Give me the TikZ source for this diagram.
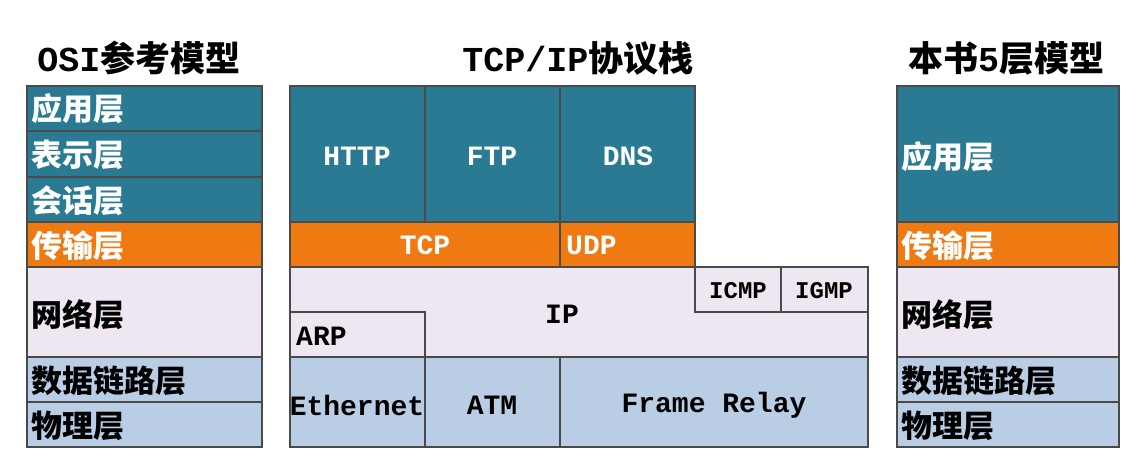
\documentclass[tikz,border=0pt]{standalone}
\usepackage{fontspec}
\setmainfont{Liberation Mono}
\newfontfamily\cjk{Noto Sans CJK SC}
\definecolor{teal}{HTML}{2B7A94}
\definecolor{orng}{HTML}{EF7A12}
\definecolor{lav}{HTML}{EEE7F1}
\definecolor{lblue}{HTML}{B9CDE5}
\definecolor{edge}{HTML}{4A4A4A}
\begin{document}
\begin{tikzpicture}[x=1pt,y=-1pt,
 cell/.style={draw=edge,line width=1.2pt},
 lw/.style={text=white,inner sep=0pt,font=\fontsize{28}{30}\selectfont\bfseries},
 lb/.style={text=black,inner sep=0pt,font=\fontsize{28}{30}\selectfont\bfseries},
 cw/.style={text=white,inner sep=0pt,font=\cjk\fontsize{31}{33}\selectfont\bfseries},
 cb/.style={text=black,inner sep=0pt,font=\cjk\fontsize{31}{33}\selectfont\bfseries},
 ttl/.style={inner sep=0pt,font=\fontsize{35}{37}\selectfont\bfseries}]
\useasboundingbox[fill=white] (0,0) rectangle (1148,457);
% titles
\node[ttl] (t1) at (139,58) {OSI{\cjk 参考模型}};
\node[ttl] (t2) at (578,58) {TCP/IP{\cjk 协议栈}};
\node[ttl] (t3) at (1006,58) {{\cjk 本书}5{\cjk 层模型}};
% left column
\def\L{27}\def\R{262}
\fill[teal] (\L,86) rectangle (\R,222);
\fill[orng] (\L,222) rectangle (\R,267);
\fill[lav] (\L,267) rectangle (\R,357);
\fill[lblue] (\L,357) rectangle (\R,447);
\foreach \a/\b in {86/131,131/177,177/222,222/267,267/357,357/402,402/447}
 \draw[cell] (\L,\a) rectangle (\R,\b);
\node[cw,anchor=west] (l1) at (31,109) {应用层};
\node[cw,anchor=west] (l2) at (31,155) {表示层};
\node[cw,anchor=west] (l3) at (31,201) {会话层};
\node[cw,anchor=west] (l4) at (31,246) {传输层};
\node[cb,anchor=west] (l5) at (31,315) {网络层};
\node[cb,anchor=west] (l6) at (31,381) {数据链路层};
\node[cb,anchor=west] (l7) at (31,426) {物理层};
% right column
\def\L{897}\def\R{1119}
\fill[teal] (\L,86) rectangle (\R,222);
\fill[orng] (\L,222) rectangle (\R,267);
\fill[lav] (\L,267) rectangle (\R,357);
\fill[lblue] (\L,357) rectangle (\R,447);
\foreach \a/\b in {86/222,222/267,267/357,357/402,402/447}
 \draw[cell] (\L,\a) rectangle (\R,\b);
\node[cw,anchor=west] (r1) at (901,157) {应用层};
\node[cw,anchor=west] (r2) at (901,246) {传输层};
\node[cb,anchor=west] (r3) at (901,315) {网络层};
\node[cb,anchor=west] (r4) at (901,381) {数据链路层};
\node[cb,anchor=west] (r5) at (901,426) {物理层};
% middle
\fill[teal] (290,86) rectangle (695,222);
\fill[orng] (290,222) rectangle (695,267);
\fill[lav] (290,267) rectangle (868,357);
\fill[lblue] (290,357) rectangle (868,447);
\draw[cell] (290,86) rectangle (425,222);
\draw[cell] (425,86) rectangle (560,222);
\draw[cell] (560,86) rectangle (695,222);
\draw[cell] (290,222) rectangle (560,267);
\draw[cell] (560,222) rectangle (695,267);
\draw[cell] (290,267) rectangle (868,357);
\draw[cell] (695,267) rectangle (781,312);
\draw[cell] (781,267) rectangle (868,312);
\draw[cell] (290,312) rectangle (425,357);
\draw[cell] (290,357) rectangle (425,447);
\draw[cell] (425,357) rectangle (560,447);
\draw[cell] (560,357) rectangle (868,447);
\node[lw] (http) at (357,156) {HTTP};
\node[lw] (ftp) at (492,156) {FTP};
\node[lw] (dns) at (628,156) {DNS};
\node[lw] (tcp) at (425,245) {TCP};
\node[lw,anchor=west] (udp) at (566,245) {UDP};
\node[lb,font=\fontsize{24}{26}\selectfont\bfseries] (icmp) at (738,291) {ICMP};
\node[lb,font=\fontsize{24}{26}\selectfont\bfseries] (igmp) at (824,291) {IGMP};
\node[lb] (ip) at (562,314) {IP};
\node[lb,anchor=west] (arp) at (296,336) {ARP};
\node[lb] (eth) at (357,405) {Ethernet};
\node[lb] (atm) at (492,405) {ATM};
\node[lb] (fr) at (714,405) {Frame Relay};
\end{tikzpicture}
\end{document}
